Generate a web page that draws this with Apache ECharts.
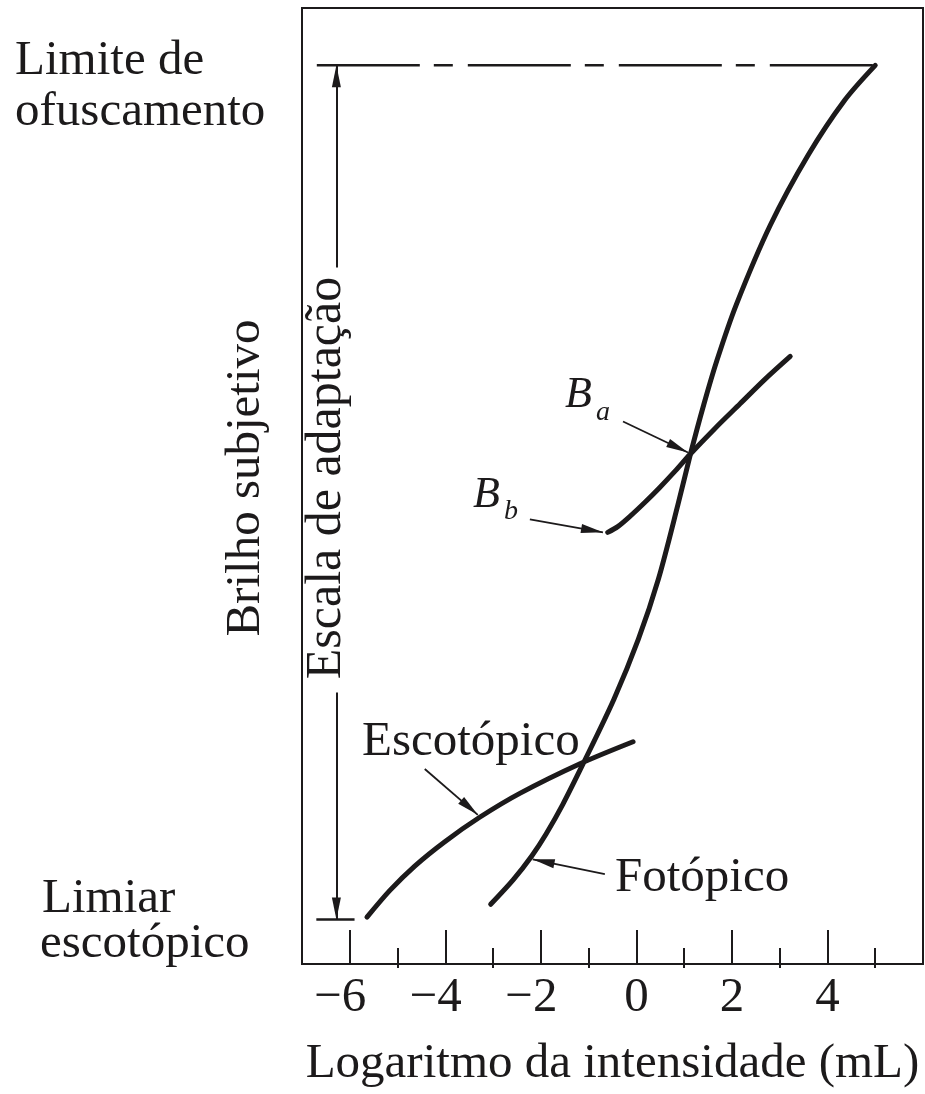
<!DOCTYPE html>
<html>
<head>
<meta charset="utf-8">
<script src="https://cdn.jsdelivr.net/npm/echarts@6/dist/echarts.min.js"></script>
<style>
  html, body { margin: 0; padding: 0; background: #fff; }
  #chart { width: 925px; height: 1094px; }
</style>
</head>
<body>
<div id="chart"></div>
<script>
// Axis ticks (log intensity, mL)
const xMajorTicks = [-6, -4, -2, 0, 2, 4];
const xMinorTicks = [-5, -3, -1, 1, 3, 5];

// Subjective brightness curves: [log intensity, brightness]
const fotopico = [
  [-3.05, 1.25], [-2.58, 1.76], [-2.19, 2.26], [-1.89, 2.72], [-1.54, 3.34],
  [-1.12, 4.18], [-0.47, 5.54], [0.04, 6.79], [0.46, 8.05], [0.87, 9.61],
  [1.13, 10.66], [1.41, 11.70], [1.69, 12.64], [2.09, 13.79], [2.81, 15.47],
  [3.60, 16.93], [4.36, 18.07], [5.00, 18.80]
];
const escotopico = [
  [-5.64, 0.98], [-5.16, 1.54], [-4.64, 2.05], [-4.01, 2.56], [-3.28, 3.07],
  [-2.44, 3.57], [-1.18, 4.19], [-0.07, 4.65]
];
const adaptacaoBb = [
  [-0.60, 9.03], [-0.39, 9.15], [-0.14, 9.36], [0.18, 9.66], [0.49, 9.97],
  [0.81, 10.31], [1.12, 10.66], [1.64, 11.20], [2.17, 11.72], [2.69, 12.23],
  [3.22, 12.71]
];

// Brightness levels of the glare limit and the scotopic threshold
const limiteOfuscamento = 18.8;
const limiarEscotopico = 0.93;

const INK = '#1c1a1b';
const FONT = '"Liberation Serif", "DejaVu Serif", serif';
const FS = 49;
const TRI = 'path://M0,0 L5,22 L-5,22 Z';

const chart = echarts.init(document.getElementById('chart'), null, { renderer: 'canvas' });

function hline(y, x0, x1, width, type, clip) {
  return {
    type: 'line', data: [[x0, y], [x1, y]], symbol: 'none', silent: true,
    clip: clip !== false, z: 3,
    lineStyle: { color: INK, width: width, type: type || 'solid' }
  };
}

function curve(data) {
  return {
    type: 'line', data: data, symbol: 'none', smooth: 0.3, silent: true, z: 4,
    lineStyle: { color: INK, width: 5, cap: 'round', join: 'round' }
  };
}

function arrow(from, to, width) {
  return [
    { coord: from, symbol: 'none', lineStyle: { color: INK, width: width, type: 'solid' } },
    { coord: to, symbol: TRI, symbolSize: [9, 22], symbolOffset: [0, 11] }
  ];
}

const adaptX = -6.28;
const topCurveX = fotopico[fotopico.length - 1][0];

const option = {
  animation: false,
  backgroundColor: '#fff',
  grid: {
    left: 302, right: 2, top: 8, bottom: 129,
    show: true, borderColor: INK, borderWidth: 2, backgroundColor: 'transparent'
  },
  xAxis: [
    {
      type: 'value', min: -7, max: 6, position: 'bottom',
      splitLine: { show: false },
      axisLine: { show: true, lineStyle: { color: INK, width: 2 } },
      axisTick: { show: true, inside: true, length: 34, customValues: xMajorTicks,
        lineStyle: { color: INK, width: 2 } },
      axisLabel: {
        customValues: xMajorTicks, margin: 10, color: INK,
        fontFamily: FONT, fontSize: FS,
        formatter: v => v < 0 ? '{n|\u2212' + Math.abs(v) + '}' : '{p|' + v + '}',
        rich: {
          n: { fontFamily: FONT, fontSize: FS, color: INK, padding: [0, 19, 0, 0] },
          p: { fontFamily: FONT, fontSize: FS, color: INK }
        }
      },
      name: 'Logaritmo da intensidade (mL)',
      nameLocation: 'middle', nameGap: 76,
      nameTextStyle: { fontFamily: FONT, fontSize: FS, color: INK }
    },
    {
      type: 'value', min: -7, max: 6, position: 'bottom',
      splitLine: { show: false }, axisLine: { show: false }, axisLabel: { show: false },
      axisTick: { show: true, inside: true, length: 16, customValues: xMinorTicks,
        lineStyle: { color: INK, width: 2 } }
    },
    {
      type: 'value', min: -7, max: 6, position: 'bottom',
      splitLine: { show: false }, axisLine: { show: false }, axisLabel: { show: false },
      axisTick: { show: true, inside: false, length: 4, customValues: xMinorTicks,
        lineStyle: { color: INK, width: 2 } }
    }
  ],
  yAxis: { type: 'value', min: 0, max: 20, show: false },
  series: [
    curve(fotopico),
    curve(escotopico),
    curve(adaptacaoBb),
    hline(limiteOfuscamento, -6.69, topCurveX, 2.5, [103, 14, 19, 15]),
    hline(limiteOfuscamento, -8.41, -7.32, 2.5, 'solid', false),
    hline(limiarEscotopico, -8.41, -7.32, 2.5, 'solid', false),
    hline(limiarEscotopico, -6.70, -5.90, 2.5),
    {
      type: 'line', data: [], silent: true,
      markLine: {
        silent: true, animation: false, symbol: ['none', 'none'],
        label: { show: false },
        emphasis: { disabled: true },
        lineStyle: { color: INK, type: 'solid' },
        itemStyle: { color: INK },
        data: [
          arrow([adaptX, 14.57], [adaptX, limiteOfuscamento], 2),
          arrow([adaptX, 5.68], [adaptX, limiarEscotopico], 2),
          arrow([-0.28, 11.35], [1.08, 10.70], 1.8),
          arrow([-2.23, 9.30], [-0.70, 9.03], 1.8),
          arrow([-4.43, 4.08], [-3.32, 3.12], 1.8),
          arrow([-0.66, 1.88], [-2.17, 2.19], 1.8)
        ]
      }
    }
  ],
  graphic: [
    { type: 'text', x: 15, y: 61, style: { text: 'Limite de', font: FS + 'px ' + FONT, fill: INK, align: 'left', verticalAlign: 'middle' } },
    { type: 'text', x: 15, y: 112, style: { text: 'ofuscamento', font: FS + 'px ' + FONT, fill: INK, align: 'left', verticalAlign: 'middle' } },
    { type: 'text', x: 42, y: 899, style: { text: 'Limiar', font: FS + 'px ' + FONT, fill: INK, align: 'left', verticalAlign: 'middle' } },
    { type: 'text', x: 40, y: 944, style: { text: 'escotópico', font: FS + 'px ' + FONT, fill: INK, align: 'left', verticalAlign: 'middle' } },
    { type: 'text', x: 246, y: 478, rotation: Math.PI / 2, style: { text: 'Brilho subjetivo', font: FS + 'px ' + FONT, fill: INK, align: 'center', verticalAlign: 'middle' } },
    { type: 'text', x: 327, y: 478, rotation: Math.PI / 2, style: { text: 'Escala de adaptação', font: '50px ' + FONT, fill: INK, align: 'center', verticalAlign: 'middle' } },
    { type: 'text', x: 565, y: 395, style: { text: 'B', font: 'italic 44px ' + FONT, fill: INK, align: 'left', verticalAlign: 'middle' } },
    { type: 'text', x: 596, y: 413, style: { text: 'a', font: 'italic 28px ' + FONT, fill: INK, align: 'left', verticalAlign: 'middle' } },
    { type: 'text', x: 473, y: 495, style: { text: 'B', font: 'italic 44px ' + FONT, fill: INK, align: 'left', verticalAlign: 'middle' } },
    { type: 'text', x: 504, y: 512, style: { text: 'b', font: 'italic 28px ' + FONT, fill: INK, align: 'left', verticalAlign: 'middle' } },
    { type: 'text', x: 362, y: 742, style: { text: 'Escotópico', font: FS + 'px ' + FONT, fill: INK, align: 'left', verticalAlign: 'middle' } },
    { type: 'text', x: 615, y: 878, style: { text: 'Fotópico', font: FS + 'px ' + FONT, fill: INK, align: 'left', verticalAlign: 'middle' } }
  ]
};

chart.setOption(option);
</script>
</body>
</html>
